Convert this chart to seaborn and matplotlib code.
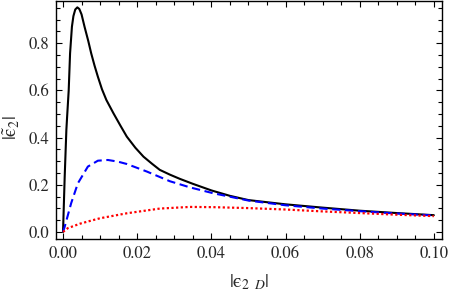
import matplotlib
matplotlib.use("Agg")
import matplotlib.pyplot as plt
import pandas as pd
import seaborn as sns
from matplotlib.ticker import MultipleLocator

# values
x_black = [0.0, 0.00045, 0.0009, 0.00108, 0.00153, 0.0019, 0.0024, 0.0028, 0.0033,
           0.00386, 0.0044, 0.0050, 0.0058, 0.0068, 0.0076, 0.0085, 0.0094, 0.0105,
           0.0117, 0.0136, 0.0155, 0.0172, 0.0195, 0.0217, 0.024, 0.0261, 0.0288,
           0.0315, 0.035, 0.04, 0.045, 0.05, 0.06, 0.07, 0.08, 0.09, 0.1]
y_black = [0.0, 0.234, 0.432, 0.482, 0.60, 0.757, 0.87, 0.915, 0.943,
           0.952, 0.945, 0.922, 0.87, 0.81, 0.757, 0.705, 0.658, 0.605,
           0.559, 0.503, 0.45, 0.404, 0.357, 0.319, 0.289, 0.263, 0.243,
           0.225, 0.204, 0.176, 0.153, 0.135, 0.117, 0.103, 0.090, 0.080, 0.071]

x_blue = [0.0, 0.00045, 0.0022, 0.004, 0.0067, 0.0094, 0.0121, 0.0148, 0.0172,
          0.0226, 0.0288, 0.0342, 0.0405, 0.05, 0.06, 0.07, 0.08, 0.09, 0.1]
y_blue = [0.0, 0.022, 0.122, 0.206, 0.277, 0.302, 0.305, 0.298, 0.288,
          0.256, 0.215, 0.189, 0.164, 0.133, 0.113, 0.099, 0.088, 0.078, 0.070]

x_red = [0.0, 0.0013, 0.0046, 0.0076, 0.01, 0.0148, 0.0172, 0.0261, 0.0342,
         0.0405, 0.05, 0.06, 0.07, 0.08, 0.09, 0.1]
y_red = [0.0, 0.016, 0.035, 0.048, 0.058, 0.072, 0.079, 0.099, 0.106,
         0.105, 0.101, 0.095, 0.087, 0.080, 0.073, 0.067]

sns.set_style("ticks")
plt.rcParams["font.family"] = ["STIXGeneral", "DejaVu Serif"]
plt.rcParams["mathtext.fontset"] = "stix"

fig = plt.figure(figsize=(4.5, 2.93), dpi=100)
ax = fig.add_axes([0.1244, 0.1843, 0.8578, 0.8123])

df_black = pd.DataFrame({"x": x_black, "y": y_black})
df_blue = pd.DataFrame({"x": x_blue, "y": y_blue})
df_red = pd.DataFrame({"x": x_red, "y": y_red})

sns.lineplot(data=df_black, x="x", y="y", ax=ax, color="black", lw=1.5,
             sort=False, estimator=None)
sns.lineplot(data=df_blue, x="x", y="y", ax=ax, color="#0000ff", lw=1.5,
             sort=False, estimator=None, linestyle=(0, (4, 2.2)))
sns.lineplot(data=df_red, x="x", y="y", ax=ax, color="#ff0000", lw=1.6,
             sort=False, estimator=None, linestyle=(0, (1, 1.1)))

ax.set_xlim(-0.0019, 0.1022)
ax.set_ylim(-0.03, 0.979)
ax.xaxis.set_major_locator(MultipleLocator(0.02))
ax.xaxis.set_minor_locator(MultipleLocator(0.005))
ax.yaxis.set_major_locator(MultipleLocator(0.2))
ax.yaxis.set_minor_locator(MultipleLocator(0.05))
ax.xaxis.set_major_formatter(plt.FuncFormatter(lambda v, p: f"{v:.2f}"))
ax.yaxis.set_major_formatter(plt.FuncFormatter(lambda v, p: f"{v:.1f}"))

ax.tick_params(which="both", direction="in", top=True, right=True,
               width=0.8, labelsize=12, color="black")
ax.tick_params(which="major", length=4.3, pad=5)
ax.tick_params(which="minor", length=2.8)
for s in ax.spines.values():
    s.set_linewidth(1.0)
    s.set_color("black")

ax.set_xlabel("$|\\mathrm{\u03f5}_{2\\;\\;D}|$", fontsize=14)
ax.set_ylabel("$|\\tilde{\\mathrm{\u03f5}}_2|$", fontsize=14)
ax.xaxis.set_label_coords(0.5, -0.14)
ax.yaxis.set_label_coords(-0.088, 0.47)

fig.savefig("out.png", dpi=100)
